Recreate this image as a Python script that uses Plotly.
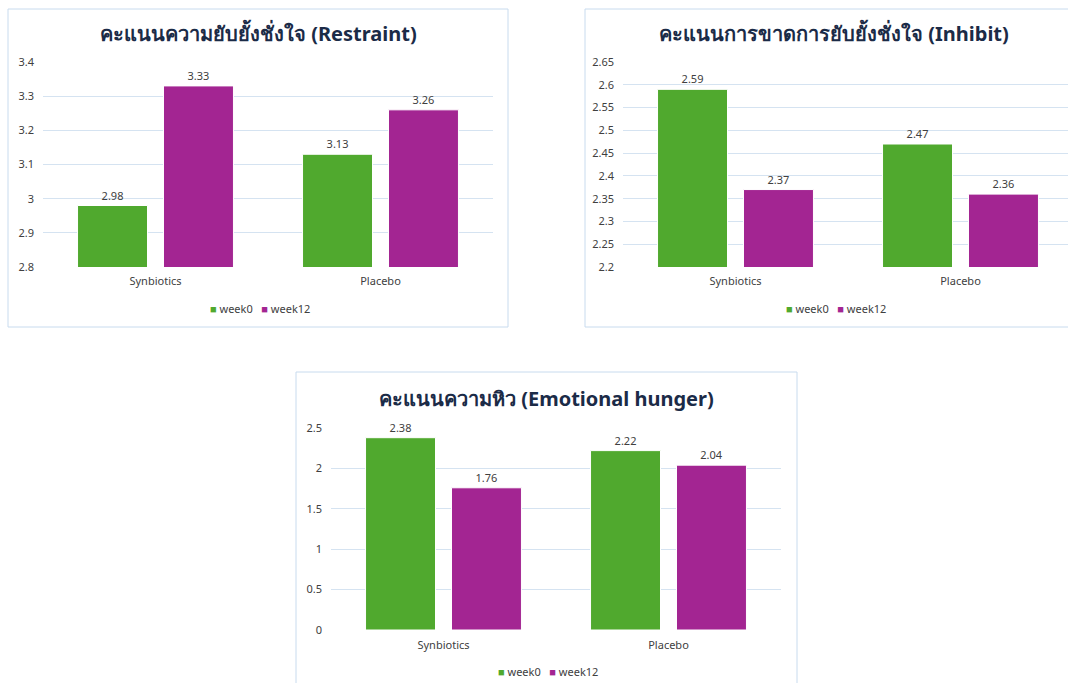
import plotly.graph_objects as go

# ---------------- data ----------------
categories = ["Synbiotics", "Placebo"]
series_names = ["week0", "week12"]

restraint_week0 = [2.98, 3.13]
restraint_week12 = [3.33, 3.26]

inhibit_week0 = [2.59, 2.47]
inhibit_week12 = [2.37, 2.36]

hunger_week0 = [2.38, 2.22]
hunger_week12 = [1.76, 2.04]

titles = [
    "คะแนนความยับยั้งชั่งใจ (Restraint)",
    "คะแนนการขาดการยับยั้งชั่งใจ (Inhibit)",
    "คะแนนความหิว (Emotional hunger)",
]

# ---------------- style ----------------
W, H = 1068, 683
GREEN = "#50a92e"
PURPLE = "#a32592"
TEXT = "#404040"
TITLE = "#1b2b47"
GRID = "#d5e3f1"
BOX = "#c8dbee"
FONT = "Noto Sans, Open Sans, sans-serif"


def px_x(p):
    return p / W


def px_y(p):
    return 1 - p / H


panels = [
    dict(w0=restraint_week0, w12=restraint_week12, yr=[2.8, 3.4], dt=0.1,
         plot=(43, 493, 62, 267), title=(258, 33), leg=(260, 308),
         box=(8, 508, 9, 327), xr=[-0.5, 1.5], xstand=6),
    dict(w0=inhibit_week0, w12=inhibit_week12, yr=[2.2, 2.65], dt=0.05,
         plot=(623, 1068, 62, 267), title=(834, 33), leg=(836, 308),
         box=(585, 1075, 9, 327), xr=[-0.5, 1.5 - 5 / 225], xstand=6),
    dict(w0=hunger_week0, w12=hunger_week12, yr=[0, 2.5], dt=0.5,
         plot=(331, 781, 428, 630), title=(546, 398), leg=(548, 671),
         box=(296, 797, 372, 690), xr=[-0.5, 1.5], xstand=7),
]

fig = go.Figure()
layout = dict(
    width=W, height=H,
    margin=dict(l=0, r=0, t=0, b=0, autoexpand=False),
    paper_bgcolor="white", plot_bgcolor="white",
    barmode="group", bargap=0.236, bargroupgap=0.186,
    font=dict(family=FONT, color=TEXT, size=11),
    showlegend=False,
    shapes=[], annotations=[],
)

for i, p in enumerate(panels):
    n = "" if i == 0 else str(i + 1)
    xa, ya = "x" + n, "y" + n
    for name, vals, col in ((series_names[0], p["w0"], GREEN), (series_names[1], p["w12"], PURPLE)):
        fig.add_trace(go.Bar(
            x=categories, y=vals, name=name, xaxis=xa, yaxis=ya,
            marker=dict(color=col, line=dict(color="white", width=1)),
            text=[f"{v:.2f}" for v in vals], textposition="outside",
            textfont=dict(size=11, color=TEXT), cliponaxis=False,
        ))
    x0, x1, y0, y1 = p["plot"]
    layout["xaxis" + n] = dict(
        domain=[px_x(x0), px_x(x1)], anchor=ya, range=p["xr"],
        showgrid=False, showline=False, zeroline=False, ticks="",
        tickfont=dict(size=11, color=TEXT), ticklabelstandoff=p["xstand"],
        fixedrange=True, automargin=False,
    )
    layout["yaxis" + n] = dict(
        domain=[px_y(y1), px_y(y0)], anchor=xa, range=p["yr"], dtick=p["dt"],
        showgrid=True, gridcolor=GRID, gridwidth=1, zeroline=False,
        showline=False, ticks="", tickfont=dict(size=11, color=TEXT),
        ticklabelstandoff=8, fixedrange=True, automargin=False,
    )
    # compact legend as text
    lx, ly = p["leg"]
    leg_text = (
        f"<span style='color:{GREEN}'>■</span> {series_names[0]}"
        f"   <span style='color:{PURPLE}'>■</span> {series_names[1]}"
    )
    layout["annotations"].append(dict(
        text=leg_text, xref="paper", yref="paper",
        x=px_x(lx), y=px_y(ly), xanchor="center", yanchor="middle",
        showarrow=False, font=dict(size=11, color=TEXT, family=FONT),
    ))
    bx0, bx1, by0, by1 = p["box"]
    layout["shapes"].append(dict(
        type="rect", xref="paper", yref="paper",
        x0=px_x(bx0), x1=px_x(bx1), y0=px_y(by1), y1=px_y(by0),
        line=dict(color=BOX, width=1), fillcolor="rgba(0,0,0,0)", layer="below",
    ))
    tx, ty = p["title"]
    layout["annotations"].append(dict(
        text="<b>" + titles[i] + "</b>", xref="paper", yref="paper",
        x=px_x(tx), y=px_y(ty), xanchor="center", yanchor="middle",
        showarrow=False, font=dict(size=20, color=TITLE, family=FONT),
    ))

fig.update_layout(**layout)
fig.write_html("out.html")
